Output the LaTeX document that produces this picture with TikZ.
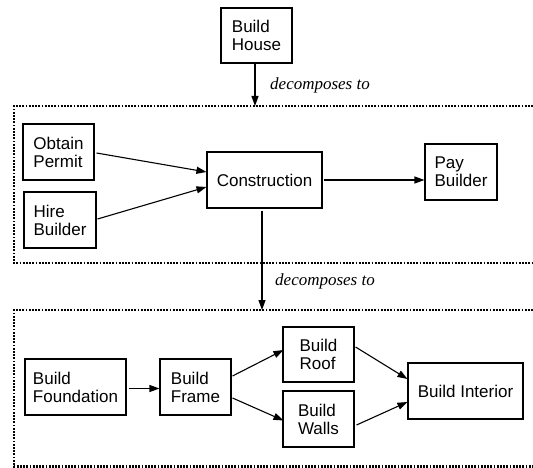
\documentclass[tikz,border=0pt]{standalone}
\usepackage{fontspec}
\setmainfont{Liberation Sans}
\newfontfamily\labelfont{Liberation Serif}
\usetikzlibrary{arrows.meta}

\tikzset{
  task/.style={draw, line width=1.1pt, inner sep=0pt, align=left,
    font=\fontsize{17}{18}\selectfont},
  flow/.style={line width=1.1pt, -{Triangle[length=10pt,width=7pt]}},
  group/.style={line width=2.2pt, dash pattern=on 1.8pt off 1.4pt},
  rel/.style={anchor=west, inner sep=0pt,
    font=\labelfont\itshape\fontsize{17}{18}\selectfont}
}

\begin{document}
\begin{tikzpicture}[x=1pt, y=-1pt]
  \useasboundingbox (0,0) rectangle (533,468);

  % top-level task
  \node[task, minimum width=71pt, minimum height=55pt] (bh) at (256.5,35.5) {Build\\House};

  % first decomposition group
  \draw[group] (533,106) -- (14,106) -- (14,263) -- (533,263);
  \coordinate (g1) at (255,106);

  \node[task, minimum width=71pt, minimum height=56pt] (op) at (58.5,152) {Obtain\\Permit};
  \node[task, minimum width=72pt, minimum height=56pt] (hb) at (60,220) {Hire\\Builder};
  \node[task, minimum width=115pt, minimum height=56pt] (con) at (264.5,180) {Construction};
  \node[task, minimum width=72pt, minimum height=56pt] (pb) at (461,172) {Pay\\Builder};

  % second decomposition group
  \draw[group] (533,310) -- (14,310) -- (14,466.5) -- (533,466.5);
  \coordinate (g2) at (262,310);

  \node[task, minimum width=101pt, minimum height=56pt] (bf) at (75.5,387) {Build\\Foundation};
  \node[task, minimum width=71pt, minimum height=56pt] (fr) at (195.5,387) {Build\\Frame};
  \node[task, minimum width=71pt, minimum height=55pt] (rf) at (318.5,354.5) {Build\\Roof};
  \node[task, minimum width=71pt, minimum height=56pt] (wl) at (318.5,419) {Build\\Walls};
  \node[task, minimum width=115pt, minimum height=56pt] (bi) at (465.5,391) {Build Interior};

  % decomposition links
  \draw[flow] (bh.south -| g1) -- (g1);
  \node[rel] (l1) at (270,85) {decomposes to};
  \draw[flow] ([yshift=-2pt]con.south -| g2) -- (g2);
  \node[rel] (l2) at (275,281.5) {decomposes to};

  % ordering within the first group
  \draw[flow] ([xshift=2pt,yshift=-1pt]op.east) -- ([yshift=8pt]con.west);
  \draw[flow] ([xshift=1pt,yshift=1pt]hb.east) -- ([yshift=-7pt]con.west);
  \draw[flow] ([xshift=1pt]con.east) -- (con.east -| pb.west);

  % ordering within the second group
  \draw[flow] ([xshift=2pt,yshift=-1.5pt]bf.east) -- ([yshift=-1.5pt]fr.west);
  \draw[flow] ([xshift=1pt,yshift=11pt]fr.east) -- ([xshift=1pt,yshift=4.5pt]rf.west);
  \draw[flow] ([xshift=1pt,yshift=-11pt]fr.east) -- ([xshift=1pt,yshift=-1.5pt]wl.west);
  \draw[flow] ([xshift=1pt,yshift=7.5pt]rf.east) -- ([yshift=12pt]bi.west);
  \draw[flow] ([xshift=2pt,yshift=-6pt]wl.east) -- ([yshift=-11pt]bi.west);
\end{tikzpicture}
\end{document}
